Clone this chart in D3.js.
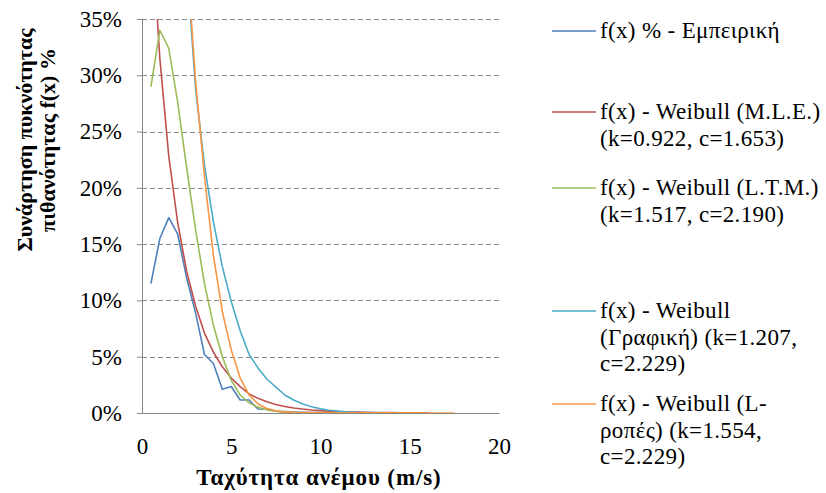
<!DOCTYPE html>
<html><head><meta charset="utf-8">
<script src="https://cdn.jsdelivr.net/npm/d3@7"></script>
<style>
body{margin:0;background:#fff}
svg{display:block}
text{font-family:"Liberation Serif","Times New Roman",serif;fill:#000}
</style>
</head><body><svg id="c" width="826" height="493"></svg>
<script>
// ---- data ----
const speed = [0.5,1,1.5,2,2.5,3,3.5,4,4.5,5,5.5,6,6.5,7,7.5,8,8.5,9,9.5,10,10.5,11,11.5,12,12.5,13,13.5,14,14.5,15,15.5,16,16.5,17,17.5];
const empirical = [11.5,15.5,17.35,15.9,12.0,8.9,5.2,4.4,2.1,2.35,1.15,1.15,0.35,0.33,0.15,0.12,0.08,0.06,0.05,0.04,0.03,0.03,0.02,0.02];
const weibullMLE = [44,31.5,22.8,16.9,12.6,9.5,7.1,5.4,4.1,3.1,2.35,1.7,1.3,1.0,0.76,0.58,0.45,0.35,0.27,0.21,0.16,0.12,0.1,0.08,0.06,0.05,0.04,0.03,0.025,0.02,0.015,0.01];
const weibullLTM = [29,34,32.4,27.6,21.8,16.3,11.5,7.8,5.0,2.9,1.6,0.9,0.5,0.28,0.15,0.08,0.04,0.02,0.01,0.005,0,0,0,0];
const weibullGraph = [60,75,72,58,40,28.8,22,17,13,9.9,7.3,5.2,4.0,3.0,2.3,1.6,1.15,0.8,0.55,0.37,0.25,0.17,0.11,0.07,0.05,0.03,0.02,0.01,0.01];
const weibullLmom = [55,70,68,56,41,29.5,21,14,9,5.6,3.1,1.6,0.8,0.4,0.2,0.1,0.06,0.04,0.03,0.025,0.02,0.02,0.015,0.015,0.01,0.01,0.01,0.01,0.01,0.01,0.01,0.005,0.005,0.005,0.005];
const seriesValues = [empirical, weibullMLE, weibullLTM, weibullGraph, weibullLmom];
const seriesColors = ["#4F81BD","#C0504D","#9BBB59","#4BACC6","#F79646"];
const legendLabels = [
  ["f(x) % - Εμπειρική"],
  ["f(x) - Weibull (M.L.E.)","(k=0.922, c=1.653)"],
  ["f(x) - Weibull (L.T.M.)","(k=1.517, c=2.190)"],
  ["f(x) - Weibull","(Γραφική) (k=1.207,","c=2.229)"],
  ["f(x) - Weibull (L-","ροπές) (k=1.554,","c=2.229)"]
];
const yTicks = [0,5,10,15,20,25,30,35];
const xTicks = [0,5,10,15,20];
const xTitle = "Ταχύτητα ανέμου (m/s)";
const yTitle = ["Συνάρτηση πυκνότητας","πιθανότητας f(x) %"];

// ---- layout ----
const FS = 23;
const svg = d3.select("#c");
const x = d3.scaleLinear().domain([0,20]).range([142,499]);
const y = d3.scaleLinear().domain([0,35]).range([413,19]);

svg.append("defs").append("clipPath").attr("id","plot")
  .append("rect").attr("x",x(0)).attr("y",y(35)).attr("width",x(20)-x(0)).attr("height",y(0)-y(35));

// gridlines
svg.append("g").selectAll("line").data(yTicks.filter(d=>d>0)).join("line")
  .attr("x1",x(0)).attr("x2",x(20)).attr("y1",d=>Math.round(y(d))+0.5).attr("y2",d=>Math.round(y(d))+0.5)
  .attr("stroke","#8a8a8a").attr("stroke-width",1).attr("stroke-dasharray","5,3");

// y axis
const gy = svg.append("g").attr("transform",`translate(${x(0)},0)`)
  .call(d3.axisLeft(y).tickValues(yTicks).tickFormat(d=>d+"%").tickSize(5).tickPadding(15));
gy.select(".domain").attr("stroke","#868686");
gy.selectAll(".tick line").attr("stroke","#868686");
gy.selectAll("text").attr("font-size",FS).attr("fill","#000");

// x axis
const gx = svg.append("g").attr("transform",`translate(0,${y(0)})`)
  .call(d3.axisBottom(x).tickValues(xTicks).tickSize(0).tickPadding(25));
gx.select(".domain").attr("stroke","#868686");
gx.selectAll("text").attr("font-size",FS).attr("fill","#000");

// series lines
const line = d3.line().defined(d=>d[1]!=null).x(d=>x(d[0])).y(d=>y(d[1]));
const gl = svg.append("g").attr("clip-path","url(#plot)");
seriesValues.forEach((vals,i)=>{
  const pts = vals.map((v,j)=>[speed[j],v]);
  gl.append("path").datum(pts).attr("d",line).attr("fill","none")
    .attr("stroke",seriesColors[i]).attr("stroke-width",1.6).attr("stroke-linejoin","round");
});

// axis titles
svg.append("text").attr("x",319).attr("y",485).attr("text-anchor","middle")
  .attr("font-size",FS).attr("font-weight","bold").attr("letter-spacing",0.9).text(xTitle);
const yt = svg.append("text").attr("transform","translate(0,140) rotate(-90)")
  .attr("text-anchor","middle").attr("font-size",22).attr("font-weight","bold");
yTitle.forEach((t,i)=>yt.append("tspan").attr("x",0).attr("y",32+i*23).text(t));

// legend
const legendY = [31,112,188,311,404];
const lh = 26.5;
legendLabels.forEach((lines,i)=>{
  const g = svg.append("g");
  g.append("line").attr("x1",552).attr("x2",596).attr("y1",legendY[i]).attr("y2",legendY[i])
    .attr("stroke",seriesColors[i]).attr("stroke-width",1.6);
  const t = g.append("text").attr("font-size",FS).attr("letter-spacing",0.35);
  lines.forEach((s,k)=>t.append("tspan").attr("x",600).attr("y",legendY[i]+7+k*lh).text(s));
});
</script>
</body></html>
